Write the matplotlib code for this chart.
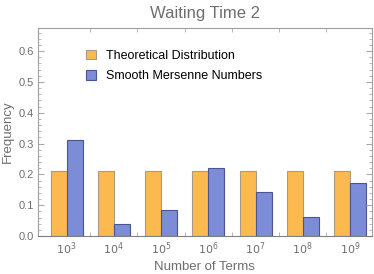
import numpy as np
import matplotlib.pyplot as plt
from matplotlib.ticker import MultipleLocator

plt.rcParams['font.family'] = ['Liberation Sans', 'DejaVu Sans']

# data
terms = ['$10^{3}$', '$10^{4}$', '$10^{5}$', '$10^{6}$', '$10^{7}$', '$10^{8}$', '$10^{9}$']
theoretical = [0.212, 0.212, 0.212, 0.212, 0.212, 0.212, 0.212]
smooth_mersenne = [0.311, 0.038, 0.085, 0.220, 0.144, 0.063, 0.171]

gray = '#6e6e6e'
orange = '#fcb94f'
blue = '#7c8cd6'

fig = plt.figure(figsize=(3.74, 2.74), dpi=100)
ax = fig.add_axes([38 / 374, 38 / 274, (371.7 - 38) / 374, (236 - 28) / 274])

x = np.arange(len(terms))
w = 0.338
ax.bar(x - w / 2, theoretical, w, color=orange, edgecolor='#a89b84', linewidth=0.8,
       label='Theoretical Distribution')
ax.bar(x + w / 2, smooth_mersenne, w, color=blue, edgecolor='#4b5591', linewidth=0.8,
       label='Smooth Mersenne Numbers')

ax.set_xlim(-0.607, 6.46)
ax.set_ylim(0, 0.675)
ax.set_xticks(x)
ax.set_xticklabels(terms)
ax.set_xticks(x[:-1] + 0.5, minor=True)
ax.yaxis.set_major_locator(MultipleLocator(0.1))
ax.yaxis.set_minor_locator(MultipleLocator(0.02))
ax.set_yticklabels([f'{v:.1f}' for v in ax.get_yticks()])

ax.tick_params(axis='x', which='major', length=0, labelsize=8, labelcolor=gray, pad=3)
ax.tick_params(axis='x', which='minor', length=3, color='#aaaaaa', direction='in', top=True)
ax.tick_params(axis='y', which='major', length=4, color='#aaaaaa', direction='in',
               labelsize=8, labelcolor=gray, right=True, pad=3)
ax.tick_params(axis='y', which='minor', length=2, color='#aaaaaa', direction='in', right=True)
for s in ax.spines.values():
    s.set_color('#a0a0a0')
    s.set_linewidth(0.8)
ax.spines['bottom'].set_color('#808080')

ax.set_title('Waiting Time 2', fontsize=12, color=gray, pad=7)
ax.set_xlabel('Number of Terms', fontsize=9.5, color=gray, labelpad=3)
ax.set_ylabel('Frequency', fontsize=9.5, color=gray, labelpad=3)

ax.legend(loc='upper left', bbox_to_anchor=(0.13, 0.92), frameon=False, fontsize=9,
          handlelength=0.75, handleheight=0.75, handletextpad=0.8, labelspacing=0.7,
          borderaxespad=0)

fig.savefig('out.png', dpi=100)
